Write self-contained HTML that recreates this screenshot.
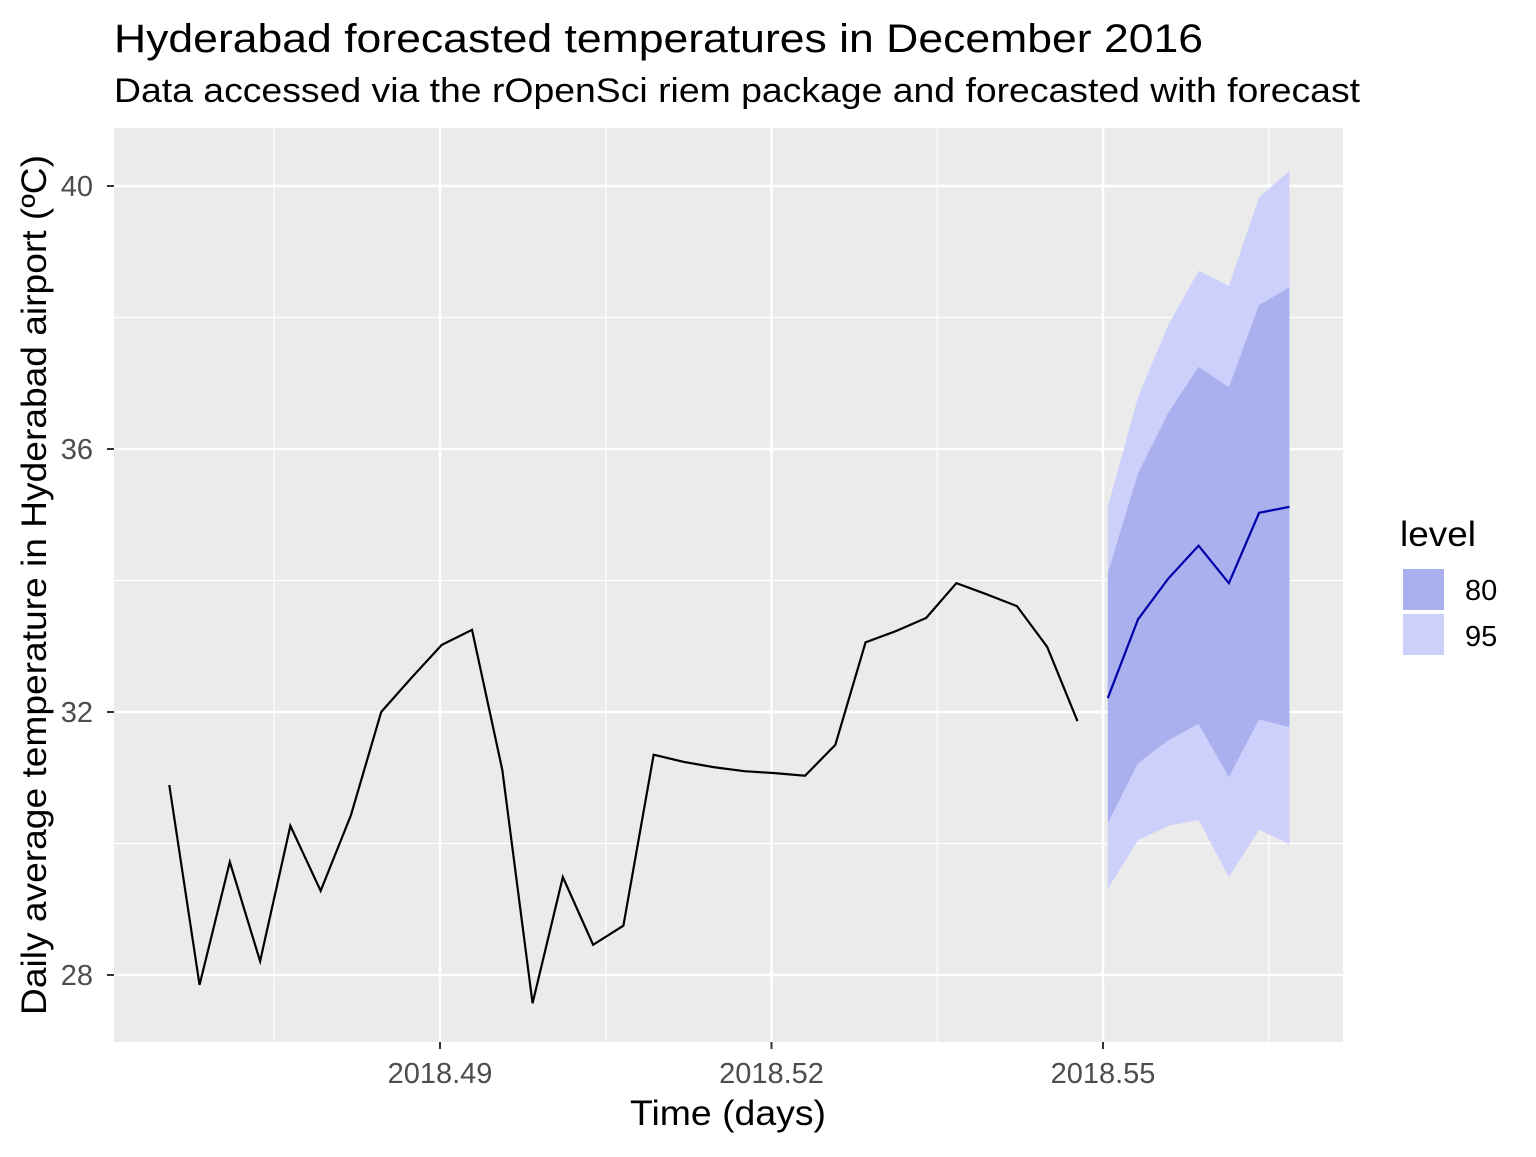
<!DOCTYPE html>
<html><head><meta charset="utf-8"><style>
body{margin:0;background:#fff;font-family:"Liberation Sans",sans-serif}
</style></head><body>
<svg id="chart" width="1536" height="1152" xmlns="http://www.w3.org/2000/svg" font-family="Liberation Sans, sans-serif">
<text x="114" y="52" font-size="40" textLength="1089" lengthAdjust="spacingAndGlyphs" fill="#000">Hyderabad forecasted temperatures in December 2016</text>
<text x="114" y="102" font-size="34" textLength="1246" lengthAdjust="spacingAndGlyphs" fill="#000">Data accessed via the rOpenSci riem package and forecasted with forecast</text>
<rect x="114" y="128" width="1229" height="914" fill="#ebebeb"/>
<g id="grid"></g>
<g id="bands"></g>
<g id="lines"></g>
<g id="axes"></g>
<text transform="translate(46,585) rotate(-90)" text-anchor="middle" font-size="35" textLength="860" lengthAdjust="spacingAndGlyphs">Daily average temperature in Hyderabad airport (ºC)</text>
<text x="728" y="1125" text-anchor="middle" font-size="35" textLength="196" lengthAdjust="spacingAndGlyphs">Time (days)</text>
<g>
<text x="1400" y="546" font-size="35" textLength="76" lengthAdjust="spacingAndGlyphs">level</text>
<rect x="1403" y="569" width="41" height="41" fill="#aab0ee"/>
<rect x="1403" y="614" width="41" height="41" fill="#ccd0fa"/>
<text x="1465" y="600" font-size="29">80</text>
<text x="1465" y="646" font-size="29">95</text>
</g>
</svg>
<script>
const histStart = 2018.4655;
const dayStep = 1/365;
const histValues = [30.89,27.85,29.72,28.21,30.27,29.28,30.43,32.0,32.52,33.02,33.25,31.12,27.57,29.49,28.46,28.75,31.35,31.24,31.16,31.10,31.07,31.03,31.5,33.06,33.23,33.43,33.96,33.79,33.61,32.99,31.86];
const fcMean = [32.21,33.41,34.03,34.53,33.96,35.03,35.12];
const fcLo80 = [30.31,31.22,31.57,31.82,31.01,31.89,31.77];
const fcHi80 = [34.11,35.63,36.55,37.25,36.94,38.19,38.46];
const fcLo95 = [29.31,30.05,30.27,30.36,29.49,30.21,29.99];
const fcHi95 = [35.12,36.79,37.89,38.71,38.48,39.83,40.23];
const xTicks = [2018.49,2018.52,2018.55];
const xTickLabels = ["2018.49","2018.52","2018.55"];
const xMinor = [2018.475,2018.505,2018.535,2018.565];
const yTicks = [28,32,36,40];
const yMinor = [30,34,38];

const X = v => 440 + (v - 2018.49) * 11050;
const Y = v => 712 - (v - 32) * 65.75;
const NS = "http://www.w3.org/2000/svg";
function mk(parent, tag, attrs){const e=document.createElementNS(NS,tag);for(const k in attrs)e.setAttribute(k,attrs[k]);document.getElementById(parent).appendChild(e);return e;}

xMinor.forEach(v=>{const e=mk('grid','line',{x1:X(v),x2:X(v),y1:128,y2:1042,stroke:'#fff','stroke-width':1.2});

});
yMinor.forEach(v=>{const e=mk('grid','line',{x1:114,x2:1343,y1:Y(v),y2:Y(v),stroke:'#fff','stroke-width':1.2});

});
xTicks.forEach((v,i)=>{const e=mk('grid','line',{x1:X(v),x2:X(v),y1:128,y2:1042,stroke:'#fff','stroke-width':2.5});


const t=mk('axes','line',{x1:X(v),x2:X(v),y1:1042,y2:1049,stroke:'#333','stroke-width':2});


const l=mk('axes','text',{x:X(v),y:1083,'text-anchor':'middle','font-size':29,fill:'#4d4d4d'});l.textContent=xTickLabels[i];

});
yTicks.forEach(v=>{const e=mk('grid','line',{x1:114,x2:1343,y1:Y(v),y2:Y(v),stroke:'#fff','stroke-width':2.5});


const t=mk('axes','line',{x1:107,x2:114,y1:Y(v),y2:Y(v),stroke:'#333','stroke-width':2});


const l=mk('axes','text',{x:93,y:Y(v)+10,'text-anchor':'end','font-size':29,fill:'#4d4d4d'});l.textContent=String(v);

});

const fcStart = histStart + histValues.length*dayStep;
const fx = i => X(fcStart + i*dayStep);
function band(lo,hi,color,name){
  let d='M'+lo.map((v,i)=>fx(i)+','+Y(v)).join(' L');
  for(let i=hi.length-1;i>=0;i--) d+=' L'+fx(i)+','+Y(hi[i]);
  const e=mk('bands','path',{d:d+'Z',fill:color});
  
  
}
band(fcLo95,fcHi95,'#ccd0fa','band-95');
band(fcLo80,fcHi80,'#aab0ee','band-80');
const h=mk('lines','polyline',{points:histValues.map((v,i)=>X(histStart+i*dayStep)+','+Y(v)).join(' '),fill:'none',stroke:'#000','stroke-width':2.2});


const m=mk('lines','polyline',{points:fcMean.map((v,i)=>fx(i)+','+Y(v)).join(' '),fill:'none',stroke:'#0000aa','stroke-width':2.2});


</script>
</body></html>
